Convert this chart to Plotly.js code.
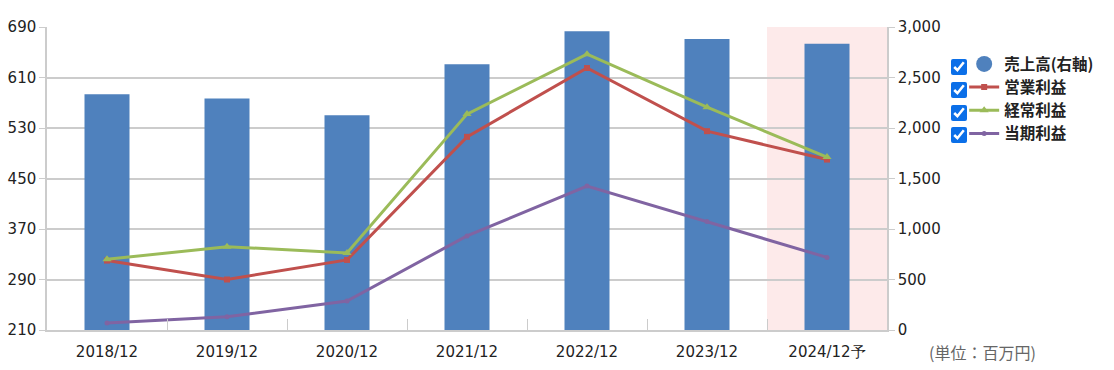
<!DOCTYPE html>
<html><head><meta charset="utf-8">
<script src="https://cdn.plot.ly/plotly-3.0.1.min.js"></script>
<style>
html,body{margin:0;padding:0;background:#fff;}
#wrap{position:relative;width:1114px;height:370px;}
#chart{width:1114px;height:370px;}
.cb{position:absolute;left:951px;width:16px;height:16px;margin:0;accent-color:#0b6fe8;}
#chart .legend .traces{opacity:1 !important;}
</style></head>
<body>
<div id="wrap"><div id="chart"></div>
<input type="checkbox" class="cb" checked style="top:59px">
<input type="checkbox" class="cb" checked style="top:82px">
<input type="checkbox" class="cb" checked style="top:105px">
<input type="checkbox" class="cb" checked style="top:127px">
</div>
<script>
const categories = ['2018/12','2019/12','2020/12','2021/12','2022/12','2023/12','2024/12予'];
const sales = [2334, 2291, 2126, 2631, 2957, 2881, 2835];
const operatingProfit = [320, 290, 321, 516, 625, 525, 480];
const ordinaryProfit = [322, 342, 332, 552, 647, 563, 484];
const netProfit = [221, 231, 256, 359, 438, 382, 325];
const seriesNames = ['売上高(右軸)','営業利益','経常利益','当期利益'];
const leftTicks = [210, 290, 370, 450, 530, 610, 690];
const rightTicks = [0, 500, 1000, 1500, 2000, 2500, 3000];
const forecastCategory = '2024/12予';

const tickFont = {family:'DejaVu Sans, Verdana, sans-serif', size:15, color:'#222'};
const gridC = '#cccccc';

const traces = [
  {type:'bar', x:categories, y:sales, yaxis:'y', width:0.375, marker:{color:'#4f81bd'}, showlegend:false, name:seriesNames[0], hoverinfo:'y'},
  {type:'scatter', mode:'markers', visible:'legendonly', x:categories, y:sales, yaxis:'y', name:seriesNames[0], marker:{color:'#4f81bd', size:17, symbol:'circle'}},
  {type:'scatter', mode:'lines+markers', x:categories, y:operatingProfit, yaxis:'y2', name:seriesNames[1], line:{color:'#c0504d', width:3}, marker:{color:'#c0504d', size:6, symbol:'square'}},
  {type:'scatter', mode:'lines+markers', x:categories, y:ordinaryProfit, yaxis:'y2', name:seriesNames[2], line:{color:'#9bbb59', width:3}, marker:{color:'#9bbb59', size:8, symbol:'triangle-up'}},
  {type:'scatter', mode:'lines+markers', x:categories, y:netProfit, yaxis:'y2', name:seriesNames[3], line:{color:'#8064a2', width:3}, marker:{color:'#8064a2', size:5, symbol:'circle'}}
];

const layout = {
  width:1114, height:370,
  margin:{l:47, r:227, t:27, b:40, autoexpand:false},
  paper_bgcolor:'#fff', plot_bgcolor:'#fff',
  showlegend:true,
  legend:{xref:'container', x:0.8655, xanchor:'left', yref:'container', y:0.872, yanchor:'top', bgcolor:'rgba(0,0,0,0)',
          font:{family:'Noto Sans CJK JP, sans-serif', size:15.5, color:'#222', weight:'bold'},
          itemwidth:30, tracegroupgap:0, itemclick:false, itemdoubleclick:false},
  xaxis:{type:'category', categoryarray:categories, range:[-0.5, 6.5],
         showline:true, linecolor:gridC, linewidth:1.5, ticks:'inside', tickson:'boundaries',
         ticklen:11, tickcolor:gridC, tickwidth:1, showgrid:false,
         tickfont:{family:'DejaVu Sans, sans-serif', size:15, color:'#222'}, ticklabelstandoff:7},
  yaxis:{side:'right', range:[0,3000], tickvals:rightTicks, tickformat:',d',
         showgrid:true, gridcolor:gridC, gridwidth:1.5, zeroline:false,
         showline:true, linecolor:gridC, linewidth:1.5, ticks:'outside', ticklen:6, tickcolor:gridC,
         tickfont:tickFont},
  yaxis2:{overlaying:'y', side:'left', range:[210,690], tickvals:leftTicks,
          showgrid:false, zeroline:false, showline:true, linecolor:gridC, linewidth:1.5,
          ticks:'outside', ticklen:6, tickcolor:gridC, tickfont:tickFont},
  shapes:[{type:'rect', xref:'x', yref:'paper', layer:'below',
           x0:categories.indexOf(forecastCategory)-0.5, x1:categories.indexOf(forecastCategory)+0.5,
           y0:0, y1:1, fillcolor:'#fdeaea', line:{width:0}}],
  annotations:[{text:'(単位：百万円)', xref:'paper', yref:'paper', x:1.048, xanchor:'left',
                y:-0.073, yanchor:'middle', showarrow:false,
                font:{family:'Noto Sans CJK JP, sans-serif', size:16, color:'#666'}}]
};

Plotly.newPlot('chart', traces, layout, {displayModeBar:false});
</script>
</body></html>
